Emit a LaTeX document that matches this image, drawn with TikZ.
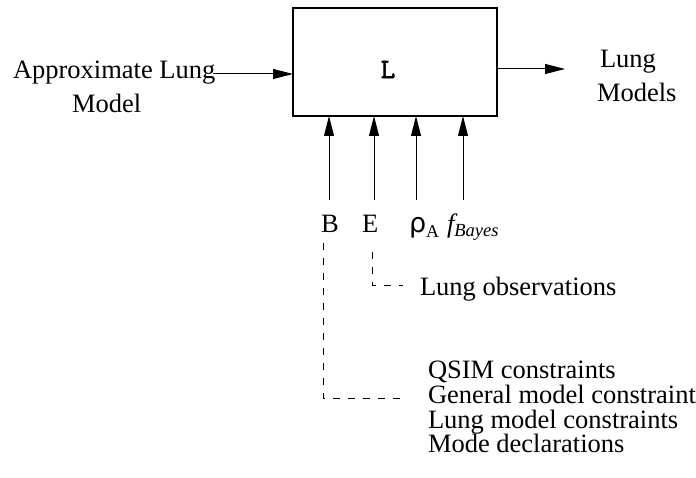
\documentclass[tikz,border=0pt]{standalone}
\usepackage{fontspec}
\setmainfont{Liberation Serif}
\newfontfamily\codefont{Latin Modern Mono}[FakeBold=2.5]
\newfontfamily\greekfont{DejaVu Sans}
\usetikzlibrary{arrows.meta}
\begin{document}
\begin{tikzpicture}[x=1pt,y=-1pt,
  every node/.style={inner sep=0pt,outer sep=0pt},
  txt/.style={anchor=base west,font=\fontsize{26.5}{26.5}\selectfont},
  flow/.style={line width=1pt,-{Triangle[length=20pt,width=10pt]}},
  link/.style={line width=0.9pt,dash pattern=on 7pt off 8pt}]
\useasboundingbox (0,0) rectangle (696,478);

% the main block
\node[draw,line width=1.2pt,minimum width=204pt,minimum height=108pt,anchor=north west] (box) at (293,8) {};
\node[font=\codefont\fontsize{28}{28}\selectfont] (lbl) at (388,69.5) {L};

% input and output texts
\node[txt] (approx) at (13,79) {Approximate Lung};
\node[txt] (model) at (72,113) {Model};
\node[txt] (lungout) at (600,68) {Lung};
\node[txt] (models) at (597,102) {Models};

\coordinate (inL) at (213,74);
\coordinate (outR) at (565,69);
\draw[flow] (inL) -- (inL -| box.west);
\draw[flow] (outR -| box.east) -- (outR);

% parameter labels below the block
\node[txt] (B) at (321,233) {B};
\node[txt] (E) at (362,233) {E};
\node[anchor=base west] (rho) at (409,233) {\greekfont\fontsize{27}{27}\selectfont ρ\raisebox{-5pt}{\fontsize{18}{18}\rmfamily\selectfont A}};
\node[anchor=base west] (fb) at (447,233) {\fontsize{26.5}{26.5}\itshape\selectfont f\raisebox{-4pt}{\fontsize{18.5}{18.5}\selectfont Bayes}};

\coordinate (aB) at (329,200);
\coordinate (aE) at (374,200);
\coordinate (aR) at (416,200);
\coordinate (aF) at (463,200);
\foreach \c in {aB,aE,aR,aF}
  \draw[flow] (\c) -- (\c |- box.south);

% sources of the parameters
\node[txt] (obs) at (420,295) {Lung observations};
\node[txt] (qsim) at (428,378) {QSIM constraints};
\node[txt] (gen) at (428,403) {General model constraint};
\node[txt] (lmc) at (428,428) {Lung model constraints};
\node[txt] (mode) at (428,452) {Mode declarations};

\coordinate (dB) at (323,243);
\coordinate (dBend) at (405,398);
\coordinate (dE) at (372,252);
\coordinate (dEend) at (403,285);
\draw[link] (dB) |- (dBend);
\draw[link] (dE) |- (dEend);
\end{tikzpicture}
\end{document}
